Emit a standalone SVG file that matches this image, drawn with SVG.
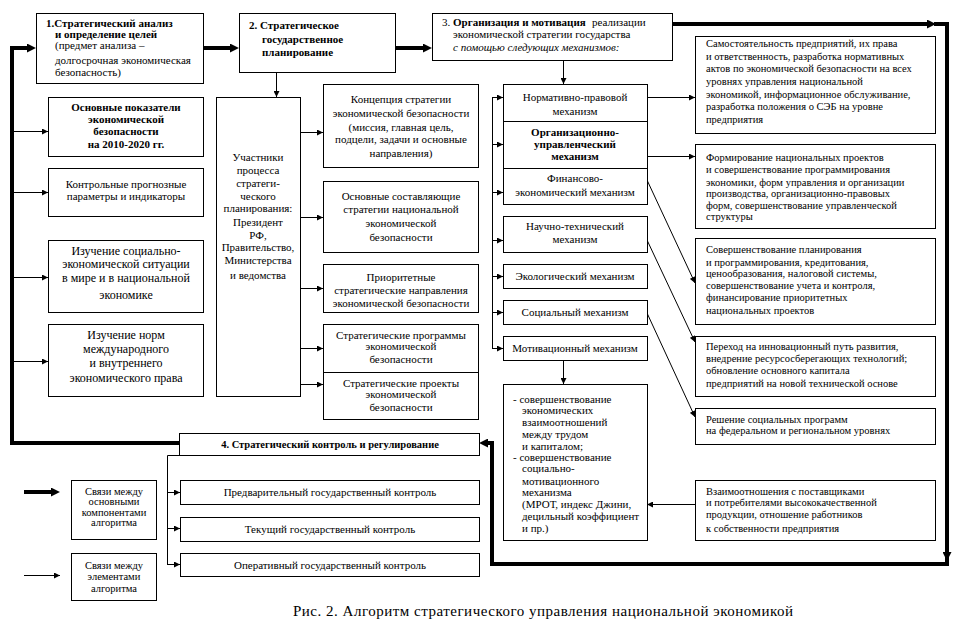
<svg xmlns="http://www.w3.org/2000/svg" width="972" height="636" viewBox="0 0 972 636">
<style>
.bx{fill:#fff;stroke:#000;stroke-width:1}
.t{font-family:"Liberation Serif","Times New Roman",serif;font-size:11px;fill:#000}
.c{text-anchor:middle}
.b{font-weight:bold}
.s{font-size:10.5px}
.l{font-size:12px}
.cap{font-size:15px}
.thin{fill:none;stroke:#000;stroke-width:1}
.thick{fill:none;stroke:#000;stroke-width:4;stroke-linejoin:miter}
.a{marker-end:url(#ah)}
.A{marker-end:url(#ahT)}
</style>
<defs>
<marker id="ah" viewBox="0 0 10 10" refX="10" refY="5" markerWidth="7" markerHeight="6" markerUnits="userSpaceOnUse" orient="auto"><path d="M0,0 L10,5 L0,10 z" fill="#000"/></marker>
<marker id="ahT" viewBox="0 0 10 10" refX="4.5" refY="5" markerWidth="9" markerHeight="9" markerUnits="userSpaceOnUse" orient="auto"><path d="M0,0 L10,5 L0,10 z" fill="#000"/></marker>
</defs>
<rect width="972" height="636" fill="#fff"/>

<g id="connectors">
<path class="thick A" d="M203,48 H234"/>
<path class="thick A" d="M395,48 H427"/>
<path class="thick A" d="M179,443 H12 V48 H31"/>
<path class="thick A" d="M672,24 H931"/>
<path class="thick A" d="M934,24 H947 V556"/>
<path class="thick A" d="M947,556 V564 H492 V443 H484"/>
<path class="thin a" d="M276.5,72 V97"/>
<path class="thin a" d="M300,132.5 H323"/>
<path class="thin a" d="M300,217.5 H323"/>
<path class="thin a" d="M300,288.5 H323"/>
<path class="thin a" d="M300,348.5 H323"/>
<path class="thin a" d="M300,384.5 H323"/>
<path class="thin a" d="M12,131.5 H48"/>
<path class="thin a" d="M12,192.5 H48"/>
<path class="thin a" d="M12,277.5 H48"/>
<path class="thin a" d="M12,361.5 H48"/>
<path class="thin a" d="M563.5,60 V84"/>
<path class="thin" d="M496,97.5 H492.5 V348.5 H496"/>
<path class="thin a" d="M492,97.5 H503"/>
<path class="thin a" d="M492,144.5 H503"/>
<path class="thin a" d="M492,192.5 H503"/>
<path class="thin a" d="M492,240.5 H503"/>
<path class="thin a" d="M492,276.5 H503"/>
<path class="thin a" d="M492,312.5 H503"/>
<path class="thin a" d="M492,348.5 H503"/>
<path class="thin a" d="M647,97.5 H695"/>
<path class="thin a" d="M647,156.5 H695"/>
<path class="thin a" d="M647,180 L695,283"/>
<path class="thin a" d="M647,240 L695,342"/>
<path class="thin a" d="M647,313 L695,417"/>
<path class="thin a" d="M695,504.5 H647"/>
<path class="thin a" d="M563.5,360 V384"/>
<path class="thin" d="M180,455.5 H167.5 V564.5 H172"/>
<path class="thin a" d="M167,492.5 H180"/>
<path class="thin a" d="M167,528.5 H180"/>
<path class="thin a" d="M167,564.5 H180"/>
<path class="thick A" d="M24,492 H55"/>
<path class="thin a" d="M24,575.5 H60"/>
</g>

<g id="n1">
<rect class="bx" x="36.5" y="13.5" width="167" height="70"/>
<text class="t b" x="46" y="27">1.Стратегический анализ</text>
<text class="t b" x="55" y="38">и определение целей</text>
<text class="t" x="55" y="49">(предмет анализа –</text>
<text class="t" x="55" y="64">долгосрочная экономическая</text>
<text class="t" x="55" y="76">безопасность)</text>
</g>

<g id="n2">
<rect class="bx" x="239.5" y="13.5" width="156" height="59"/>
<text class="t b" x="249" y="29">2. Стратегическое</text>
<text class="t b" x="262" y="43">государственное</text>
<text class="t b" x="262" y="56">планирование</text>
</g>

<g id="n3">
<rect class="bx" x="432.5" y="13.5" width="240" height="47"/>
<text class="t" x="442" y="26">3.</text>
<text class="t b" x="453" y="26">Организация и мотивация</text>
<text class="t" x="592" y="26">реализации</text>
<text class="t" x="453" y="38">экономической стратегии государства</text>
<text class="t" x="453" y="51" font-style="italic">с помощью следующих механизмов:</text>
</g>

<g id="left1">
<rect class="bx" x="48.5" y="97.5" width="155" height="59"/>
<text class="t b c" x="126" y="111">Основные показатели</text>
<text class="t b c" x="126" y="123">экономической</text>
<text class="t b c" x="126" y="135">безопасности</text>
<text class="t b c" x="126" y="148">на 2010-2020 гг.</text>
</g>
<g id="left2">
<rect class="bx" x="48.5" y="168.5" width="155" height="48"/>
<text class="t c" x="126" y="188">Контрольные прогнозные</text>
<text class="t c" x="126" y="200">параметры и индикаторы</text>
</g>
<g id="left3">
<rect class="bx" x="48.5" y="240.5" width="155" height="72"/>
<text class="t l c" x="126" y="255">Изучение социально-</text>
<text class="t l c" x="126" y="268">экономической ситуации</text>
<text class="t l c" x="126" y="282">в мире и в национальной</text>
<text class="t l c" x="126" y="299">экономике</text>
</g>
<g id="left4">
<rect class="bx" x="48.5" y="324.5" width="155" height="72"/>
<text class="t l c" x="126" y="339">Изучение норм</text>
<text class="t l c" x="126" y="353">международного</text>
<text class="t l c" x="126" y="367">и внутреннего</text>
<text class="t l c" x="126" y="382">экономического права</text>
</g>

<g id="participants">
<rect class="bx" x="216.5" y="97.5" width="84" height="299"/>
<text class="t c" x="258" y="161">Участники</text>
<text class="t c" x="258" y="174">процесса</text>
<text class="t c" x="258" y="187">стратеги-</text>
<text class="t c" x="258" y="200">ческого</text>
<text class="t c" x="258" y="212">планирования:</text>
<text class="t c" x="258" y="226">Президент</text>
<text class="t c" x="258" y="239">РФ,</text>
<text class="t c" x="258" y="251">Правительство,</text>
<text class="t c" x="258" y="264">Министерства</text>
<text class="t c" x="258" y="279">и ведомства</text>
</g>

<g id="m1">
<rect class="bx" x="323.5" y="84.5" width="155" height="83"/>
<text class="t c" x="401" y="103">Концепция стратегии</text>
<text class="t c" x="401" y="117">экономической безопасности</text>
<text class="t c" x="401" y="131">(миссия, главная цель,</text>
<text class="t c" x="401" y="143">подцели, задачи и основные</text>
<text class="t c" x="401" y="157">направления)</text>
</g>
<g id="m2">
<rect class="bx" x="323.5" y="181.5" width="155" height="71"/>
<text class="t c" x="401" y="200">Основные составляющие</text>
<text class="t c" x="401" y="213">стратегии национальной</text>
<text class="t c" x="401" y="227">экономической</text>
<text class="t c" x="401" y="241">безопасности</text>
</g>
<g id="m3">
<rect class="bx" x="323.5" y="264.5" width="155" height="48"/>
<text class="t c" x="401" y="281">Приоритетные</text>
<text class="t c" x="401" y="294">стратегические направления</text>
<text class="t c" x="401" y="307">экономической безопасности</text>
</g>
<g id="m4">
<rect class="bx" x="323.5" y="324.5" width="155" height="48"/>
<text class="t c" x="401" y="339">Стратегические программы</text>
<text class="t c" x="401" y="350">экономической</text>
<text class="t c" x="401" y="363">безопасности</text>
</g>
<g id="m5">
<rect class="bx" x="323.5" y="372.5" width="155" height="47"/>
<text class="t c" x="401" y="387">Стратегические проекты</text>
<text class="t c" x="401" y="398">экономической</text>
<text class="t c" x="401" y="411">безопасности</text>
</g>

<g id="mech1">
<rect class="bx" x="503.5" y="84.5" width="144" height="37"/>
<text class="t c" x="575" y="101">Нормативно-правовой</text>
<text class="t c" x="575" y="115">механизм</text>
</g>
<g id="mech2">
<rect class="bx" x="503.5" y="121.5" width="144" height="47"/>
<text class="t b c" x="575" y="136">Организационно-</text>
<text class="t b c" x="575" y="148">управленческий</text>
<text class="t b c" x="575" y="160">механизм</text>
</g>
<g id="mech3">
<rect class="bx" x="503.5" y="168.5" width="144" height="36"/>
<text class="t c" x="575" y="182">Финансово-</text>
<text class="t c" x="575" y="196">экономический механизм</text>
</g>
<g id="mech4">
<rect class="bx" x="503.5" y="216.5" width="144" height="36"/>
<text class="t c" x="575" y="230">Научно-технический</text>
<text class="t c" x="575" y="243">механизм</text>
</g>
<g id="mech5">
<rect class="bx" x="503.5" y="264.5" width="144" height="24"/>
<text class="t c" x="575" y="280">Экологический механизм</text>
</g>
<g id="mech6">
<rect class="bx" x="503.5" y="300.5" width="144" height="24"/>
<text class="t c" x="575" y="316">Социальный механизм</text>
</g>
<g id="mech7">
<rect class="bx" x="503.5" y="336.5" width="144" height="24"/>
<text class="t c" x="575" y="352">Мотивационный механизм</text>
</g>

<g id="motlist">
<rect class="bx" x="503.5" y="384.5" width="144" height="156"/>
<text class="t" x="513" y="403">- совершенствование</text>
<text class="t" x="522" y="414">экономических</text>
<text class="t" x="522" y="426">взаимоотношений</text>
<text class="t" x="522" y="438">между трудом</text>
<text class="t" x="522" y="450">и капиталом;</text>
<text class="t" x="513" y="461">- совершенствование</text>
<text class="t" x="522" y="472">социально-</text>
<text class="t" x="522" y="485">мотивационного</text>
<text class="t" x="522" y="496">механизма</text>
<text class="t" x="522" y="508">(МРОТ, индекс Джини,</text>
<text class="t" x="522" y="520">децильный коэффициент</text>
<text class="t" x="522" y="532">и пр.)</text>
</g>

<g id="r1">
<rect class="bx" x="695.5" y="36.5" width="240" height="97"/>
<text class="t s" x="706" y="47">Самостоятельность предприятий, их права</text>
<text class="t s" x="706" y="60">и ответственность, разработка нормативных</text>
<text class="t s" x="706" y="72">актов по экономической безопасности на всех</text>
<text class="t s" x="706" y="85">уровнях управления национальной</text>
<text class="t s" x="706" y="98">экономикой, информационное обслуживание,</text>
<text class="t s" x="706" y="110">разработка положения о СЭБ на уровне</text>
<text class="t s" x="706" y="123">предприятия</text>
</g>
<g id="r2">
<rect class="bx" x="695.5" y="144.5" width="240" height="84"/>
<text class="t s" x="706" y="161">Формирование национальных проектов</text>
<text class="t s" x="706" y="173">и совершенствование программирования</text>
<text class="t s" x="706" y="186">экономики, форм управления и организации</text>
<text class="t s" x="706" y="197">производства, организационно-правовых</text>
<text class="t s" x="706" y="209">форм, совершенствование управленческой</text>
<text class="t s" x="706" y="220">структуры</text>
</g>
<g id="r3">
<rect class="bx" x="695.5" y="238.5" width="240" height="86"/>
<text class="t s" x="706" y="253">Совершенствование планирования</text>
<text class="t s" x="706" y="266">и программирования, кредитования,</text>
<text class="t s" x="706" y="277">ценообразования, налоговой системы,</text>
<text class="t s" x="706" y="289">совершенствование учета и контроля,</text>
<text class="t s" x="706" y="301">финансирование приоритетных</text>
<text class="t s" x="706" y="314">национальных проектов</text>
</g>
<g id="r4">
<rect class="bx" x="695.5" y="336.5" width="240" height="60"/>
<text class="t s" x="706" y="350">Переход на инновационный путь развития,</text>
<text class="t s" x="706" y="362">внедрение ресурсосберегающих технологий;</text>
<text class="t s" x="706" y="374">обновление основного капитала</text>
<text class="t s" x="706" y="387">предприятий на новой технической основе</text>
</g>
<g id="r5">
<rect class="bx" x="695.5" y="408.5" width="240" height="36"/>
<text class="t s" x="706" y="423">Решение социальных программ</text>
<text class="t s" x="706" y="434">на федеральном и региональном уровнях</text>
</g>
<g id="r6">
<rect class="bx" x="695.5" y="480.5" width="240" height="60"/>
<text class="t s" x="706" y="495">Взаимоотношения с поставщиками</text>
<text class="t s" x="706" y="506">и потребителями высококачественной</text>
<text class="t s" x="706" y="518">продукции, отношение работников</text>
<text class="t s" x="706" y="532">к собственности предприятия</text>
</g>

<g id="n4">
<rect class="bx" x="179.5" y="433.5" width="300" height="22"/>
<text class="t b c s" x="330" y="448">4. Стратегический контроль и регулирование</text>
</g>
<g id="c1">
<rect class="bx" x="180.5" y="480.5" width="299" height="24"/>
<text class="t c" x="330" y="496">Предварительный государственный контроль</text>
</g>
<g id="c2">
<rect class="bx" x="180.5" y="517.5" width="299" height="24"/>
<text class="t c" x="330" y="533">Текущий государственный контроль</text>
</g>
<g id="c3">
<rect class="bx" x="180.5" y="553.5" width="299" height="23"/>
<text class="t c" x="330" y="569">Оперативный государственный контроль</text>
</g>

<g id="legend1">
<rect class="bx" x="71.5" y="480.5" width="85" height="59"/>
<text class="t c s" x="114" y="495">Связи между</text>
<text class="t c s" x="114" y="505">основными</text>
<text class="t c s" x="114" y="516">компонентами</text>
<text class="t c s" x="114" y="526">алгоритма</text>
</g>
<g id="legend2">
<rect class="bx" x="71.5" y="553.5" width="85" height="47"/>
<text class="t c s" x="114" y="569">Связи между</text>
<text class="t c s" x="114" y="580">элементами</text>
<text class="t c s" x="114" y="592">алгоритма</text>
</g>

<g id="caption">
<text class="t cap" x="293" y="616" textLength="500" lengthAdjust="spacing">Рис. 2. Алгоритм стратегического управления национальной экономикой</text>
</g>
</svg>
